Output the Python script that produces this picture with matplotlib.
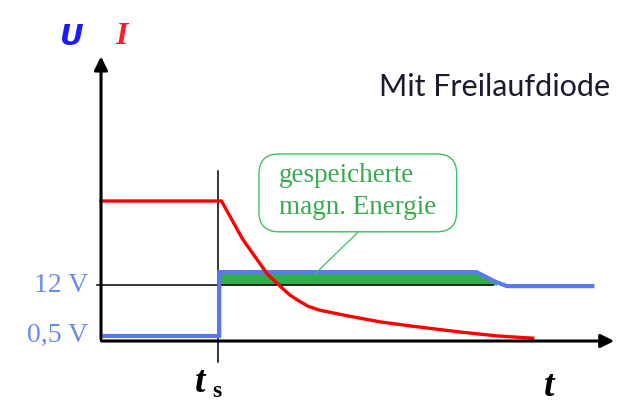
import matplotlib
matplotlib.use('Agg')
import matplotlib.pyplot as plt
from matplotlib.patches import FancyBboxPatch

# schematic units: t_s = 1, 12 V level = 1
t_red = [0.0, 1.03, 1.21, 1.42, 1.53, 1.615, 1.68, 1.77, 1.87, 2.13, 2.39, 2.64, 3.07, 3.39, 3.69]
i_red = [2.5, 2.5, 1.82, 1.20, 0.98, 0.82, 0.73, 0.62, 0.55, 0.44, 0.34, 0.27, 0.16, 0.09, 0.05]

t_blue = [0.03, 1.01, 1.01, 3.21, 3.38, 3.47, 4.2]
u_blue = [0.09, 0.09, 1.23, 1.23, 1.05, 0.98, 0.98]

t_s = 1.0
u_12 = 1.0
u_05 = 0.09
level_labels = ['12 V', '0,5 V']

fig = plt.figure(figsize=(6.36, 4.06), dpi=100)
ax = fig.add_axes([0, 0, 1, 1])
ax.set_xlim(-101 / 117, 535 / 117)
ax.set_ylim(-64 / 56, 342 / 56)
ax.axis('off')

blue = '#5a78f0'
green = '#2db04b'

# stored energy area
ax.fill_between(t_blue[2:], u_12, u_blue[2:], where=[u > u_12 for u in u_blue[2:]],
                color=green, lw=0, zorder=2)

# 12 V reference line and t_s marker
ax.plot([-0.03, 3.35], [u_12, u_12], color='black', lw=1.1, zorder=3)
ax.plot([t_s, t_s], [-0.375, 3.04], color='black', lw=1.1, zorder=3)

ax.plot(t_blue, u_blue, color=blue, lw=3, zorder=4, solid_joinstyle='miter')
ax.plot(t_red, i_red, color='red', lw=2.4, zorder=5)

# axes with arrows
ax.annotate('', xy=(0, 5.13), xytext=(0, -0.02),
            arrowprops=dict(arrowstyle='-|>', color='black', lw=2.2, mutation_scale=20), zorder=6)
ax.annotate('', xy=(4.41, 0), xytext=(-0.02, 0),
            arrowprops=dict(arrowstyle='-|>', color='black', lw=2.2, mutation_scale=20), zorder=6)

serif = 'Liberation Serif'
lab_col = '#6a8af0'
ax.text(-0.11, u_12, level_labels[0], ha='right', va='center', fontsize=20,
        family=serif, color=lab_col)
ax.text(-0.11, u_05 + 0.02, level_labels[1], ha='right', va='center', fontsize=20,
        family=serif, color=lab_col)

ax.text(-0.26, 5.45, 'U', fontsize=21, color='#1a1aff', style='italic', weight='bold',
        family='DejaVu Sans', ha='center', va='center')
ax.text(0.18, 5.45, 'I', fontsize=23, color='#ff1a2a', style='italic', weight='bold',
        family=serif, ha='center', va='center')

ax.text(0.85, -0.73, 't', fontsize=27, style='italic', weight='bold', family=serif,
        ha='center', va='center')
ax.text(0.99, -0.88, 's', fontsize=17, weight='bold', family=serif, ha='center', va='center')
ax.text(3.83, -0.79, 't', fontsize=27, style='italic', weight='bold', family=serif,
        ha='center', va='center')

ax.text(3.36, 4.55, 'Mit Freilaufdiode', fontsize=22, family='Lato', color='#1a1a30',
        ha='center', va='center')

# callout box
box = FancyBboxPatch((1.35, 1.95), 1.69, 1.39, boxstyle='round,pad=0,rounding_size=0.17',
                     transform=ax.transData, fc='white', ec='#40c060', lw=1.0, zorder=7,
                     mutation_aspect=117 / 56)
ax.add_patch(box)
ax.plot([2.20, 1.83], [1.95, 1.2], color='#40c060', lw=0.9, zorder=7)
ax.text(1.52, 2.97, 'gespeicherte', fontsize=19.5, family=serif, color='#3aaa50',
        ha='left', va='center', zorder=8)
ax.text(1.52, 2.40, 'magn. Energie', fontsize=19.5, family=serif, color='#3aaa50',
        ha='left', va='center', zorder=8)

fig.savefig('out.png', dpi=100)
